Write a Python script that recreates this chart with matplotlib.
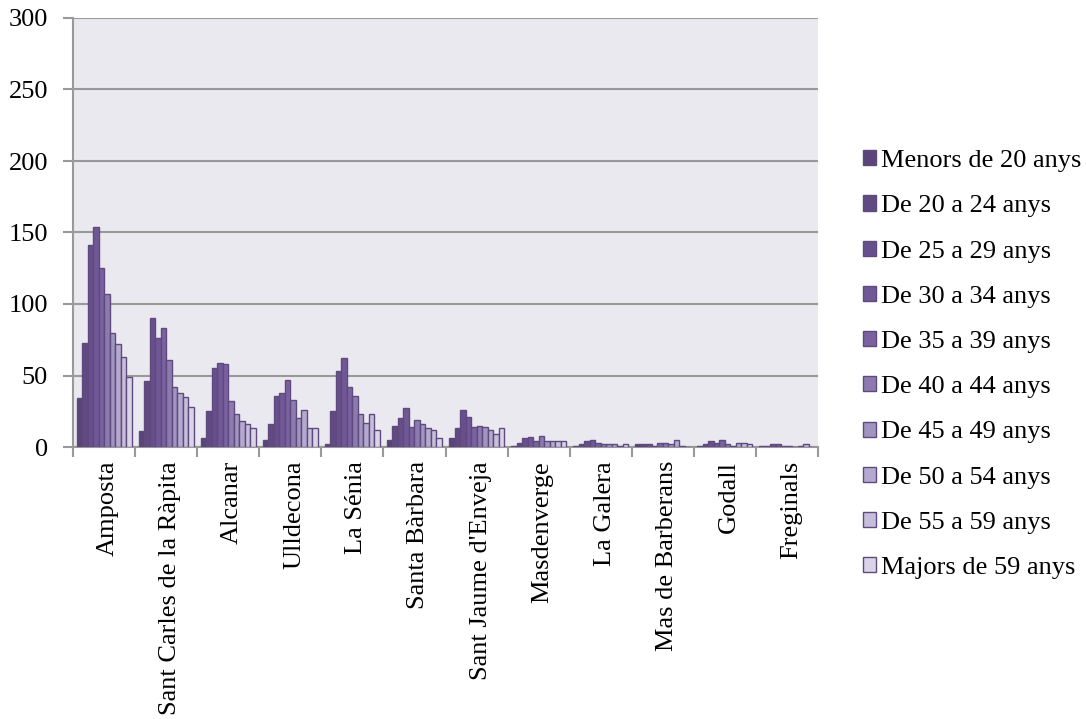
import numpy as np
import matplotlib.pyplot as plt
import matplotlib.transforms as mtransforms
from matplotlib.ticker import FixedLocator

plt.rcParams['font.family'] = ['Liberation Serif', 'DejaVu Serif']

municipis = ['Amposta', 'Sant Carles de la Ràpita', 'Alcanar', 'Ulldecona',
             'La Sénia', 'Santa Bàrbara', "Sant Jaume d'Enveja", 'Masdenverge',
             'La Galera', 'Mas de Barberans', 'Godall', 'Freginals']

edats = ['Menors de 20 anys', 'De 20 a 24 anys', 'De 25 a 29 anys',
         'De 30 a 34 anys', 'De 35 a 39 anys', 'De 40 a 44 anys',
         'De 45 a 49 anys', 'De 50 a 54 anys', 'De 55 a 59 anys',
         'Majors de 59 anys']

# una fila per municipi, una columna per grup d'edat
valors = [
    [34, 73, 141, 154, 125, 107, 80, 72, 63, 49],
    [11, 46, 90, 76, 83, 61, 42, 38, 35, 28],
    [6, 25, 55, 59, 58, 32, 23, 18, 16, 13],
    [5, 16, 36, 38, 47, 33, 20, 26, 13, 13],
    [2, 25, 53, 62, 42, 36, 23, 17, 23, 12],
    [5, 15, 20, 27, 14, 19, 16, 13, 12, 6],
    [6, 13, 26, 21, 14, 15, 14, 12, 9, 13],
    [1, 3, 6, 7, 4, 8, 4, 4, 4, 4],
    [1, 2, 4, 5, 3, 2, 2, 2, 1, 2],
    [2, 2, 2, 1, 3, 3, 2, 5, 1, 0],
    [1, 2, 4, 3, 5, 2, 1, 3, 3, 2],
    [1, 1, 2, 2, 1, 1, 0, 1, 2, 0],
]

colors = ['#5a4578', '#614a82', '#684f8c', '#705896', '#7a62a0',
          '#8d7aaf', '#a195bf', '#b4a9ce', '#c6beda', '#dad4e7']

valors = np.array(valors)
x = np.arange(len(municipis))
amplada = 0.885 / len(edats)

fig = plt.figure(figsize=(10.86, 7.19), dpi=100)
ax = fig.add_axes([73 / 1086, 1 - 447 / 719, 745 / 1086, 429 / 719])
ax.set_facecolor('#ebe9f0')

for i, edat in enumerate(edats):
    pos = x - 0.885 / 2 + amplada * (i + 0.5)
    ax.bar(pos, valors[:, i], width=amplada, color=colors[i],
           edgecolor='#5e4a7e', linewidth=1.0, label=edat, zorder=3)

ax.set_ylim(0, 300)
ax.set_yticks(range(0, 301, 50))
ax.set_xlim(-0.5, len(municipis) - 0.5)
ax.yaxis.grid(True, color='#999999', linewidth=1.5, zorder=0)

ax.set_xticks(x)
ax.set_xticklabels(municipis, rotation=90, va='top', ha='center')
ax.tick_params(axis='x', which='major', length=0, pad=10, labelsize=19)
# desplaçar una mica les etiquetes cap a la dreta
despl = mtransforms.ScaledTranslation(4 / 100, 0, fig.dpi_scale_trans)
for lab in ax.get_xticklabels():
    lab.set_transform(lab.get_transform() + despl)
ax.xaxis.set_minor_locator(FixedLocator(np.arange(-0.5, len(municipis), 1)))
ax.tick_params(axis='x', which='minor', length=7, width=1.5, color='#999999', direction='out')
ax.tick_params(axis='y', length=7, width=1.5, color='#999999', labelsize=19, pad=11)

for s in ['top', 'right']:
    ax.spines[s].set_visible(False)
for s in ['left', 'bottom']:
    ax.spines[s].set_color('#999999')
    ax.spines[s].set_linewidth(1.5)

ax.legend(loc='center left', bbox_to_anchor=(1.046, 0.192), frameon=False,
          fontsize=19, handlelength=0.5, handleheight=0.5, handletextpad=0.2,
          labelspacing=0.88, borderaxespad=0)

fig.savefig('out.png', dpi=100)
